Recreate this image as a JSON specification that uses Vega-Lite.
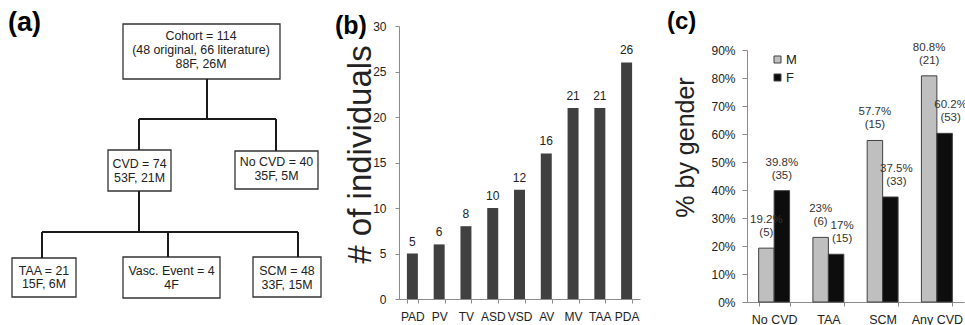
{
  "$schema": "https://vega.github.io/schema/vega-lite/v6.json",
  "padding": 0,
  "bounds": "flush",
  "spacing": 0,
  "config": {
    "view": {"stroke": null},
    "font": "Liberation Sans",
    "title": {"font": "Liberation Sans", "fontSize": 26, "fontWeight": "bold", "color": "#000000", "anchor": "start", "frame": "group", "offset": 0}
  },
  "hconcat": [
    {
      "width": 399,
      "height": 325,
      "title": {"text": "(a)", "dx": 8, "dy": 40, "fontSize": 27},
      "layer": [
        {
          "data": {"values": [
            {"l": 123, "r": 280, "t": 23, "b": 78},
            {"l": 108, "r": 171, "t": 149, "b": 190},
            {"l": 235, "r": 318, "t": 150, "b": 188},
            {"l": 12, "r": 76, "t": 257, "b": 296},
            {"l": 123, "r": 220, "t": 256, "b": 297},
            {"l": 253, "r": 321, "t": 256, "b": 296}
          ]},
          "mark": {"type": "rect", "fill": "#ffffff", "stroke": "#333333", "strokeWidth": 1.3},
          "encoding": {
            "x": {"field": "l", "type": "quantitative", "scale": {"domain": [0, 399], "nice": false, "zero": false}, "axis": null},
            "x2": {"field": "r"},
            "y": {"field": "t", "type": "quantitative", "scale": {"domain": [0, 325], "nice": false, "zero": false, "reverse": true}, "axis": null},
            "y2": {"field": "b"}
          }
        },
        {
          "data": {"values": [
            {"x1": 207, "y1": 78, "x2": 207, "y2": 118},
            {"x1": 139, "y1": 118, "x2": 276, "y2": 118},
            {"x1": 139, "y1": 118, "x2": 139, "y2": 149},
            {"x1": 276, "y1": 118, "x2": 276, "y2": 150},
            {"x1": 139, "y1": 190, "x2": 139, "y2": 231},
            {"x1": 42, "y1": 231, "x2": 298, "y2": 231},
            {"x1": 42, "y1": 231, "x2": 42, "y2": 257},
            {"x1": 168, "y1": 231, "x2": 168, "y2": 256},
            {"x1": 298, "y1": 231, "x2": 298, "y2": 256}
          ]},
          "mark": {"type": "rule", "stroke": "#1a1a1a", "strokeWidth": 2},
          "encoding": {
            "x": {"field": "x1", "type": "quantitative", "scale": {"domain": [0, 399], "nice": false, "zero": false}, "axis": null},
            "x2": {"field": "x2"},
            "y": {"field": "y1", "type": "quantitative", "scale": {"domain": [0, 325], "nice": false, "zero": false, "reverse": true}, "axis": null},
            "y2": {"field": "y2"}
          }
        },
        {
          "data": {"values": [
            {"x": 201, "y": 35, "t": "Cohort = 114"},
            {"x": 201, "y": 49, "t": "(48 original, 66 literature)"},
            {"x": 201, "y": 63, "t": "88F, 26M"},
            {"x": 139.5, "y": 163, "t": "CVD = 74"},
            {"x": 139.5, "y": 177, "t": "53F, 21M"},
            {"x": 276.5, "y": 161, "t": "No CVD = 40"},
            {"x": 276.5, "y": 175, "t": "35F, 5M"},
            {"x": 44, "y": 270, "t": "TAA = 21"},
            {"x": 44, "y": 283, "t": "15F, 6M"},
            {"x": 171.5, "y": 270, "t": "Vasc. Event = 4"},
            {"x": 171.5, "y": 284, "t": "4F"},
            {"x": 287, "y": 270, "t": "SCM = 48"},
            {"x": 287, "y": 284, "t": "33F, 15M"}
          ]},
          "mark": {"type": "text", "fontSize": 12.4, "color": "#222222", "baseline": "middle", "align": "center"},
          "encoding": {
            "x": {"field": "x", "type": "quantitative", "scale": {"domain": [0, 399], "nice": false, "zero": false}, "axis": null},
            "y": {"field": "y", "type": "quantitative", "scale": {"domain": [0, 325], "nice": false, "zero": false, "reverse": true}, "axis": null},
            "text": {"field": "t"}
          }
        }
      ]
    },
    {
      "width": 241,
      "height": 298,
      "title": {"text": "(b)", "dx": -64, "dy": 42, "fontSize": 25},
      "data": {"values": [
        {"cat": "PAD", "n": 5},
        {"cat": "PV", "n": 6},
        {"cat": "TV", "n": 8},
        {"cat": "ASD", "n": 10},
        {"cat": "VSD", "n": 12},
        {"cat": "AV", "n": 16},
        {"cat": "MV", "n": 21},
        {"cat": "TAA", "n": 21},
        {"cat": "PDA", "n": 26}
      ]},
      "encoding": {
        "x": {
          "field": "cat", "type": "nominal", "sort": null,
          "scale": {"paddingInner": 0.59, "paddingOuter": 0.295},
          "axis": {"title": null, "labelAngle": 0, "tickBand": "extent", "tickSize": 4, "labelPadding": 8, "labelFontSize": 12, "labelColor": "#222222", "domainColor": "#8c8c8c", "tickColor": "#8c8c8c"}
        },
        "y": {
          "field": "n", "type": "quantitative",
          "scale": {"domain": [0, 30], "nice": false, "rangeMax": 25},
          "axis": {"values": [0, 5, 10, 15, 20, 25, 30], "grid": false, "title": "# of individuals", "titleFontSize": 33, "titleFontWeight": "normal", "titleColor": "#222222", "titlePadding": -5, "titleY": 153, "tickSize": 4, "labelPadding": 9, "labelFontSize": 12, "labelColor": "#222222", "domainColor": "#8c8c8c", "tickColor": "#8c8c8c"}
        }
      },
      "layer": [
        {"mark": {"type": "bar", "color": "#404040"}},
        {"mark": {"type": "text", "baseline": "bottom", "dy": -5, "fontSize": 12, "color": "#222222"}, "encoding": {"text": {"field": "n"}}}
      ]
    },
    {
      "width": 107,
      "height": 301,
      "title": {"text": "(c)", "dx": 27, "dy": 37, "fontSize": 24},
      "data": {"values": [{}]},
      "mark": {"type": "rule", "opacity": 0},
      "encoding": {}
    },
    {
      "width": 217,
      "height": 301,
      "data": {"values": [
        {"grp": "No CVD", "sex": "M", "pct": 0.1923, "label": ["19.2%", "(5)"]},
        {"grp": "No CVD", "sex": "F", "pct": 0.3977, "label": ["39.8%", "(35)"]},
        {"grp": "TAA", "sex": "M", "pct": 0.2308, "label": ["23%", "(6)"]},
        {"grp": "TAA", "sex": "F", "pct": 0.1705, "label": ["17%", "(15)"]},
        {"grp": "SCM", "sex": "M", "pct": 0.5769, "label": ["57.7%", "(15)"]},
        {"grp": "SCM", "sex": "F", "pct": 0.375, "label": ["37.5%", "(33)"]},
        {"grp": "Any CVD", "sex": "M", "pct": 0.8077, "label": ["80.8%", "(21)"]},
        {"grp": "Any CVD", "sex": "F", "pct": 0.6023, "label": ["60.2%", "(53)"]}
      ]},
      "encoding": {
        "x": {
          "field": "grp", "type": "nominal", "sort": null,
          "scale": {"paddingInner": 0.43, "paddingOuter": 0.215},
          "axis": {"title": null, "labelAngle": 0, "tickBand": "extent", "tickSize": 4, "labelPadding": 7, "labelFontSize": 12.5, "labelColor": "#222222", "domainColor": "#8c8c8c", "tickColor": "#8c8c8c"}
        },
        "xOffset": {"field": "sex", "type": "nominal", "sort": ["M", "F"]},
        "y": {
          "field": "pct", "type": "quantitative",
          "scale": {"domain": [0, 0.9], "nice": false, "rangeMax": 49},
          "axis": {"values": [0, 0.1, 0.2, 0.3, 0.4, 0.5, 0.6, 0.7, 0.8, 0.9], "format": ".0%", "grid": false, "title": "% by gender", "titleFontSize": 25, "titleFontWeight": "normal", "titleColor": "#222222", "titlePadding": 12, "titleY": 146, "tickSize": 5, "labelPadding": 7, "labelFontSize": 12, "labelColor": "#222222", "domainColor": "#8c8c8c", "tickColor": "#8c8c8c"}
        }
      },
      "layer": [
        {
          "mark": {"type": "bar", "stroke": "#404040", "strokeWidth": 1},
          "encoding": {
            "color": {
              "field": "sex", "type": "nominal", "sort": ["M", "F"],
              "scale": {"domain": ["M", "F"], "range": ["#bfbfbf", "#0d0d0d"]},
              "legend": {"title": null, "orient": "none", "legendX": 771, "legendY": 52, "symbolType": "square", "symbolSize": 49, "symbolStrokeColor": "#404040", "symbolStrokeWidth": 1, "labelFontSize": 13, "labelColor": "#222222", "rowPadding": 4, "labelOffset": 2}
            }
          }
        },
        {
          "transform": [{"filter": "datum.sex === 'M' || datum.grp === 'No CVD'"}],
          "mark": {"type": "text", "baseline": "bottom", "dy": -23, "fontSize": 11.5, "lineHeight": 13, "color": "#333333"},
          "encoding": {"text": {"field": "label"}}
        },
        {
          "transform": [{"filter": "datum.sex === 'F' && datum.grp !== 'No CVD'"}],
          "mark": {"type": "text", "baseline": "bottom", "dy": -23, "dx": 6, "fontSize": 11.5, "lineHeight": 13, "color": "#333333"},
          "encoding": {"text": {"field": "label"}}
        }
      ]
    }
  ]
}
